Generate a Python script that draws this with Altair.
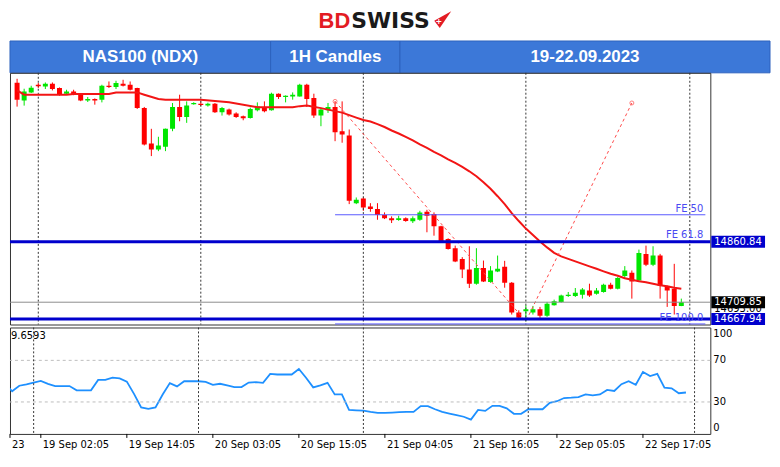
import altair as alt
import pandas as pd

# ---------------- data ----------------
bars = list(range(95))
opens = [15258.5, 15214.5, 15234.4, 15253.6, 15249.3, 15256.0, 15245.4, 15231.2, 15236.9, 15228.7,
         15214.5, 15218.0, 15216.3, 15251.1, 15247.8, 15256.0, 15253.6, 15245.4, 15195.6, 15106.8,
         15091.9, 15098.6, 15143.4, 15198.1, 15173.2, 15204.6, 15206.3, 15201.4, 15206.3, 15184.7,
         15191.4, 15181.5, 15174.7, 15170.7, 15189.6, 15195.6, 15189.6, 15231.2, 15223.0, 15224.5,
         15224.5, 15253.6, 15220.5, 15176.5, 15189.6, 15198.1, 15137.4, 15126.7, 14957.5, 14969.2,
         14949.3, 14942.6, 14927.7, 14919.5, 14915.3, 14919.5, 14912.0, 14916.0, 14935.9, 14930.2,
         14899.6, 14868.0, 14844.9, 14818.2, 14791.6, 14756.1, 14795.1, 14760.3, 14786.6, 14798.3,
         14758.5, 14683.9, 14687.2, 14683.9, 14692.1, 14675.7, 14702.1, 14710.5, 14725.5, 14725.5,
         14728.7, 14739.4, 14731.2, 14735.4, 14753.6, 14743.6, 14775.2, 14783.4, 14764.3, 14830.7,
         14803.3, 14826.5, 14750.3, 14743.6, 14700.6]
highs = [15268.5, 15243.6, 15251.1, 15257.8, 15259.3, 15259.3, 15246.8, 15241.1, 15241.1, 15231.2,
         15223.0, 15219.5, 15253.6, 15261.8, 15263.5, 15266.0, 15261.8, 15246.1, 15198.1, 15143.4,
         15123.5, 15144.0, 15208.0, 15228.7, 15212.0, 15209.8, 15212.0, 15208.8, 15208.0, 15198.1,
         15193.9, 15184.7, 15176.5, 15196.4, 15209.5, 15212.0, 15233.7, 15232.0, 15227.0, 15234.4,
         15256.0, 15256.0, 15231.2, 15195.6, 15208.0, 15212.0, 15212.0, 15141.7, 14971.7, 14971.7,
         14957.5, 14957.5, 14934.4, 14924.5, 14926.0, 14922.0, 14924.5, 14938.4, 14940.9, 14934.4,
         14901.1, 14869.7, 14851.3, 14822.5, 14849.8, 14844.9, 14814.0, 14800.1, 14826.5, 14813.3,
         14760.3, 14689.6, 14702.1, 14700.6, 14698.1, 14710.5, 14716.3, 14728.7, 14735.4, 14745.4,
         14745.4, 14756.1, 14745.4, 14756.1, 14758.5, 14772.7, 14800.1, 14789.2, 14841.4, 14851.3,
         14849.8, 14830.7, 14751.1, 14805.8, 14718.8]
lows = [15198.9, 15201.4, 15232.9, 15245.4, 15242.9, 15239.4, 15226.2, 15228.7, 15227.4, 15212.5,
        15210.5, 15203.8, 15209.5, 15245.4, 15242.9, 15249.3, 15239.4, 15193.1, 15101.8, 15075.2,
        15087.6, 15087.6, 15137.4, 15162.3, 15158.3, 15203.8, 15199.6, 15198.9, 15183.1, 15176.5,
        15176.5, 15170.7, 15164.8, 15169.0, 15187.1, 15184.7, 15188.9, 15218.0, 15209.5, 15216.3,
        15224.0, 15198.1, 15170.7, 15149.9, 15183.1, 15112.5, 15108.6, 14955.1, 14955.1, 14938.4,
        14935.9, 14916.0, 14917.7, 14907.8, 14913.5, 14911.0, 14907.8, 14913.5, 14884.7, 14876.2,
        14859.8, 14841.4, 14810.0, 14770.2, 14745.4, 14753.6, 14760.3, 14758.5, 14785.1, 14746.1,
        14679.0, 14667.2, 14662.3, 14679.0, 14670.7, 14673.2, 14701.4, 14708.8, 14723.0, 14723.0,
        14718.8, 14723.0, 14728.7, 14733.7, 14741.9, 14741.9, 14770.2, 14718.8, 14761.8, 14800.1,
        14800.1, 14718.8, 14698.1, 14679.0, 14700.0]
closes = [15216.3, 15236.9, 15246.1, 15249.8, 15256.0, 15242.9, 15228.7, 15236.9, 15230.4, 15214.5,
          15218.0, 15214.5, 15251.1, 15247.8, 15257.8, 15251.1, 15241.1, 15195.6, 15104.3, 15091.9,
          15101.8, 15143.4, 15198.1, 15173.2, 15201.4, 15208.0, 15203.1, 15206.3, 15184.7, 15195.6,
          15179.0, 15173.2, 15169.7, 15193.1, 15198.9, 15187.1, 15231.2, 15223.0, 15226.2, 15228.7,
          15253.6, 15218.0, 15176.5, 15191.4, 15198.1, 15134.9, 15129.2, 14963.3, 14965.8, 14946.9,
          14942.6, 14927.7, 14919.5, 14914.5, 14919.5, 14912.8, 14919.5, 14934.4, 14926.0, 14899.6,
          14861.3, 14843.1, 14811.5, 14791.6, 14756.1, 14795.1, 14761.8, 14789.2, 14793.4, 14758.5,
          14683.9, 14670.7, 14692.1, 14692.1, 14675.7, 14706.3, 14712.1, 14726.9, 14728.7, 14733.7,
          14741.9, 14726.9, 14739.4, 14753.6, 14743.6, 14770.2, 14789.2, 14761.8, 14833.2, 14803.3,
          14826.5, 14750.3, 14739.4, 14700.6, 14709.85]

ma_bars = [0, 1, 7, 8, 13, 14, 17, 18, 20, 21, 26, 30, 34, 39, 40, 41, 43, 44, 45, 46, 47, 48, 49,
           50, 51, 52, 53, 54, 55, 56, 57, 58, 59, 60, 61, 62, 63, 64, 65, 66, 67, 68, 69, 70, 71,
           72, 73, 74, 75, 76, 77, 78, 79, 80, 81, 82, 83, 84, 85, 86, 87, 88, 89, 90, 91, 92, 93, 94]
ma_vals = [15239.4, 15228.7, 15228.7, 15230.4, 15230.4, 15234.4, 15234.4, 15228.7, 15218.0, 15216.3,
           15216.3, 15210.0, 15197.6, 15197.6, 15200.1, 15201.4, 15195.1, 15191.4, 15187.6, 15183.9,
           15177.7, 15171.5, 15165.3, 15161.6, 15155.3, 15147.9, 15139.2, 15131.7, 15123.0, 15114.3,
           15104.3, 15095.6, 15085.6, 15076.9, 15067.0, 15058.3, 15048.3, 15037.2, 15024.7, 15009.8,
           14993.6, 14974.9, 14955.1, 14932.7, 14912.8, 14893.9, 14877.9, 14861.8, 14846.9, 14833.2,
           14824.5, 14818.2, 14812.0, 14805.8, 14799.6, 14793.4, 14787.1, 14780.9, 14775.9, 14769.7,
           14766.0, 14762.3, 14759.8, 14756.1, 14752.3, 14749.8, 14746.1, 14743.6]

rsi_bars = list(range(-1, 95))
rsi_vals = [48.0, 40.3, 45.6, 47.0, 48.7, 50.2, 47.4, 45.3, 45.3, 45.3, 41.2, 41.2, 41.2, 51.2, 51.2,
            53.3, 52.7, 49.6, 37.8, 24.8, 23.3, 24.8, 37.2, 48.1, 45.0, 49.9, 49.9, 49.9, 49.3, 46.5,
            47.5, 46.0, 44.3, 44.3, 48.7, 49.0, 48.4, 57.0, 56.4, 56.4, 56.4, 61.7, 53.3, 44.0, 46.0,
            48.4, 37.2, 37.2, 22.3, 22.0, 21.7, 20.5, 19.6, 19.5, 19.8, 20.2, 20.5, 20.5, 26.0, 26.0,
            23.0, 20.5, 18.9, 17.4, 15.8, 13.0, 22.3, 21.4, 26.3, 26.3, 23.9, 18.6, 18.6, 23.0, 23.0,
            23.0, 29.1, 30.7, 33.8, 34.1, 34.7, 37.2, 36.3, 37.2, 41.6, 40.6, 47.1, 49.9, 46.5, 58.9,
            54.9, 57.0, 43.7, 43.1, 38.4, 39.1]

sep_bars = [3, 26, 49, 72, 95.2]
fib_bars = [45, 72, 87]
fib_prices = [15212.0, 14662.0, 15208.0]
fe_labels = ["FE 50", "FE 61.8", "FE 100.0"]
fe_levels = [14928.5, 14862.0, 14655.5]
thick_levels = [14860.84, 14667.94]
bid_levels = [14709.85]
tag_values = [14860.84, 14709.85, 14667.94]
tag_colors = ["#0000cd", "#000000", "#0000cd"]
hidden_tags = [14693.00]
price_ticks = [15213.80, 15108.80, 15005.90, 14900.90, 14795.90]
rsi_ticks_top = [100]
rsi_ticks_mid = [70, 30]
rsi_ticks_bottom = [0]
rsi_levels = [30, 70]
x_ticks = [-0.3, 4, 16, 28, 40, 52, 64, 76, 88]
x_labels = ["23", "19 Sep 02:05", "19 Sep 14:05", "20 Sep 03:05", "20 Sep 15:05",
            "21 Sep 04:05", "21 Sep 16:05", "22 Sep 05:05", "22 Sep 17:05"]
rsi_caption = ["9.6593"]
header_labels = ["NAS100 (NDX)", "1H Candles", "19-22.09.2023"]
logo_parts = ["BD", "SWISS"]

# ---------------- layout / style ----------------
W, HP, HR, HH = 704, 253, 107, 60
XDOM = [-0.3, 97.4]
FE_START, FE_TEXT_AT = 45, 97.1
GREEN, RED, MA_RED = "#00e600", "#ff0000", "#f21515"
BLUE, FE_BLUE = "#0000cd", "#4a4af2"
HEADER_BLUE = "#3c78d8"
FONT = "DejaVu Sans"

XS = alt.Scale(domain=XDOM, nice=False, zero=False)
PS = alt.Scale(domain=[14654.1, 15283.4], nice=False, zero=False)
RS = alt.Scale(domain=[-0.73, 101.6], nice=False, zero=False)
Xn = alt.X("bar:Q", scale=XS, axis=None)

# ---------------- header panel (page-pixel frame) ----------------
HX = alt.Scale(domain=[8, 772], nice=False, zero=False)
HY = alt.Scale(domain=[8 + HH, 8], nice=False, zero=False)
edges = [8, 270, 400, 772]
cells = pd.DataFrame({
    "x0": edges[:-1], "x1": edges[1:], "y0": [39] * 3, "y1": [71] * 3,
    "label": header_labels,
})
cells["xc"] = (cells["x0"] + cells["x1"]) / 2
cells["yc"] = 55

rects = alt.Chart(cells).mark_rect(fill=HEADER_BLUE, stroke="#2c62bd", strokeWidth=1).encode(
    x=alt.X("x0:Q", scale=HX, axis=None), x2="x1:Q",
    y=alt.Y("y0:Q", scale=HY, axis=None), y2="y1:Q")
htext = alt.Chart(cells).mark_text(color="white", fontSize=17, fontWeight="bold",
                                   font="Liberation Sans").encode(
    x=alt.X("xc:Q", scale=HX, axis=None), y=alt.Y("yc:Q", scale=HY, axis=None), text="label:N")

logo_df = pd.DataFrame({"t": logo_parts, "x": [350, 351], "y": [18.5, 18.5]})
bd = alt.Chart(logo_df.iloc[[0]]).mark_text(align="right", baseline="middle", fontSize=22,
                                           fontWeight="bold", font="Liberation Sans",
                                           color="#e31b23").encode(
    x=alt.X("x:Q", scale=HX, axis=None), y=alt.Y("y:Q", scale=HY, axis=None), text="t:N")
swiss = alt.Chart(logo_df.iloc[[1]]).mark_text(align="left", baseline="middle", fontSize=22,
                                              fontWeight="bold", font=FONT,
                                              color="#1a1a1a").encode(
    x=alt.X("x:Q", scale=HX, axis=None), y=alt.Y("y:Q", scale=HY, axis=None), text="t:N")
flag_df = pd.DataFrame({"x": [443], "y": [17.5]})
flag = alt.Chart(flag_df).mark_point(shape="M 1 -1 L -1 0.15 L -0.35 1 Z", size=290, filled=True,
                                     color="#e31b23", opacity=1, strokeWidth=0).encode(
    x=alt.X("x:Q", scale=HX, axis=None), y=alt.Y("y:Q", scale=HY, axis=None))
plus_df = pd.DataFrame({"x": [439], "y": [19.5], "t": ["+"]})
plus = alt.Chart(plus_df).mark_text(color="white", fontSize=8, fontWeight="bold", font=FONT).encode(
    x=alt.X("x:Q", scale=HX, axis=None), y=alt.Y("y:Q", scale=HY, axis=None), text="t:N")

header = alt.layer(rects, htext, bd, swiss, flag, plus).properties(
    width=764, height=HH, view=alt.ViewBackground(stroke="transparent"))

# ---------------- price panel ----------------
cdf = pd.DataFrame({"bar": bars, "open": opens, "high": highs, "low": lows, "close": closes})
col = alt.condition("datum.close >= datum.open", alt.value(GREEN), alt.value(RED))
price_axis = alt.Axis(orient="right", values=price_ticks, format=".2f", tickSize=3, labelPadding=3,
                      title=None, grid=False, domainColor="#000", tickColor="#000")

wicks = alt.Chart(cdf).mark_rule(strokeWidth=1, clip=True).encode(
    x=Xn, y=alt.Y("low:Q", scale=PS, axis=price_axis), y2="high:Q", color=col)
bodies = alt.Chart(cdf).mark_bar(size=5, clip=True).encode(
    x=Xn, y=alt.Y("open:Q", scale=PS, axis=None), y2="close:Q", color=col)

seps_df = pd.DataFrame({"bar": sep_bars})
seps_p = alt.Chart(seps_df).mark_rule(strokeDash=[2, 2], color="#333", strokeWidth=1).encode(x=Xn)

ma = alt.Chart(pd.DataFrame({"bar": ma_bars, "ma": ma_vals})).mark_line(
    color=MA_RED, strokeWidth=2, clip=True).encode(x=Xn, y=alt.Y("ma:Q", scale=PS, axis=None))

fib_df = pd.DataFrame({"bar": fib_bars, "p": fib_prices})
fib_line = alt.Chart(fib_df).mark_line(strokeDash=[3, 3], color="#ff4a4a", strokeWidth=1,
                                       clip=True).encode(
    x=Xn, y=alt.Y("p:Q", scale=PS, axis=None))
fib_pts = alt.Chart(fib_df.iloc[[0, 2]]).mark_point(shape="circle", size=16, filled=False,
                                                   color="#ff4a4a", strokeWidth=1).encode(
    x=Xn, y=alt.Y("p:Q", scale=PS, axis=None))

fe_df = pd.DataFrame({"label": fe_labels, "level": fe_levels,
                      "start": [FE_START] * 3, "end": [XDOM[1]] * 3, "tx": [FE_TEXT_AT] * 3})
fe_rules = alt.Chart(fe_df).mark_rule(color="#5a5aff", strokeWidth=1).encode(
    x=alt.X("start:Q", scale=XS, axis=None), x2="end:Q",
    y=alt.Y("level:Q", scale=PS, axis=None))
fe_text = alt.Chart(fe_df).mark_text(align="right", baseline="bottom", dy=-1, fontSize=10,
                                     font=FONT, color=FE_BLUE).encode(
    x=alt.X("tx:Q", scale=XS, axis=None), y=alt.Y("level:Q", scale=PS, axis=None), text="label:N")

thick = alt.Chart(pd.DataFrame({"level": thick_levels})).mark_rule(color=BLUE, strokeWidth=3).encode(
    y=alt.Y("level:Q", scale=PS, axis=None))
bid = alt.Chart(pd.DataFrame({"level": bid_levels})).mark_rule(color="#8c8c8c", strokeWidth=1).encode(
    y=alt.Y("level:Q", scale=PS, axis=None))

hidden = alt.Chart(pd.DataFrame({"level": hidden_tags})).mark_text(
    align="left", baseline="middle", fontSize=10, font=FONT, color="#000").encode(
    x=alt.value(W + 4), y=alt.Y("level:Q", scale=PS, axis=None),
    text=alt.Text("level:Q", format=".2f"))
tags_df = pd.DataFrame({"level": tag_values, "c": tag_colors})
tag_box = alt.Chart(tags_df).mark_rule(strokeWidth=12, strokeCap="butt").encode(
    x=alt.value(W + 1), x2=alt.value(W + 55), y=alt.Y("level:Q", scale=PS, axis=None),
    color=alt.Color("c:N", scale=None))
tag_text = alt.Chart(tags_df).mark_text(align="left", baseline="middle", fontSize=10, font=FONT,
                                        color="white").encode(
    x=alt.value(W + 4), y=alt.Y("level:Q", scale=PS, axis=None),
    text=alt.Text("level:Q", format=".2f"))

price = alt.layer(wicks, seps_p, bodies, ma, fib_line, fib_pts, fe_rules, thick, bid, fe_text,
                  hidden, tag_box, tag_text).properties(width=W, height=HP)

# ---------------- RSI panel ----------------
rdf = pd.DataFrame({"bar": rsi_bars, "rsi": rsi_vals})
Yr = lambda f: alt.Y(f, scale=RS, axis=None)
rsi_line = alt.Chart(rdf).mark_line(color="#1e90ff", strokeWidth=1.8, clip=True).encode(
    x=Xn, y=Yr("rsi:Q"))
rsi_grid = alt.Chart(pd.DataFrame({"lv": rsi_levels})).mark_rule(
    strokeDash=[3, 3], color="#bdbdbd", strokeWidth=1).encode(y=Yr("lv:Q"))
seps_r = alt.Chart(seps_df).mark_rule(strokeDash=[2, 2], color="#333", strokeWidth=1).encode(x=Xn)
cap = alt.Chart(pd.DataFrame({"bar": [XDOM[0]], "t": rsi_caption})).mark_text(
    align="left", baseline="middle", dx=1, fontSize=10, font=FONT, color="#000").encode(
    x=Xn, y=alt.value(9), text="t:N")

xt_df = pd.DataFrame({"bar": x_ticks, "label": x_labels})
x_tick_marks = alt.Chart(xt_df).mark_rule(color="#000", strokeWidth=1).encode(
    x=Xn, y=alt.value(HR), y2=alt.value(HR + 4))
x_tick_text = alt.Chart(xt_df).mark_text(align="left", baseline="top", dx=2, fontSize=10,
                                         font=FONT, color="#000").encode(
    x=Xn, y=alt.value(HR + 6), text="label:N")


def rsi_labels(vals, baseline):
    d = pd.DataFrame({"v": vals, "t": [str(v) for v in vals]})
    return alt.Chart(d).mark_text(align="left", baseline=baseline, fontSize=10, font=FONT,
                                  color="#000").encode(
        x=alt.value(W + 3), y=Yr("v:Q"), text="t:N")


rsi = alt.layer(rsi_line, rsi_grid, seps_r, cap, x_tick_marks, x_tick_text,
                rsi_labels(rsi_ticks_top, "top"), rsi_labels(rsi_ticks_mid, "middle"),
                rsi_labels(rsi_ticks_bottom, "bottom")).properties(width=W, height=HR)

chart = alt.vconcat(header, price, rsi, spacing=3, bounds="flush", padding=0).configure_view(
    stroke="#333", strokeWidth=1
).configure_axis(
    labelFont=FONT, labelFontSize=10, labelColor="#000"
)

chart.save("out.html", embed_options={"renderer": "svg", "actions": False})
